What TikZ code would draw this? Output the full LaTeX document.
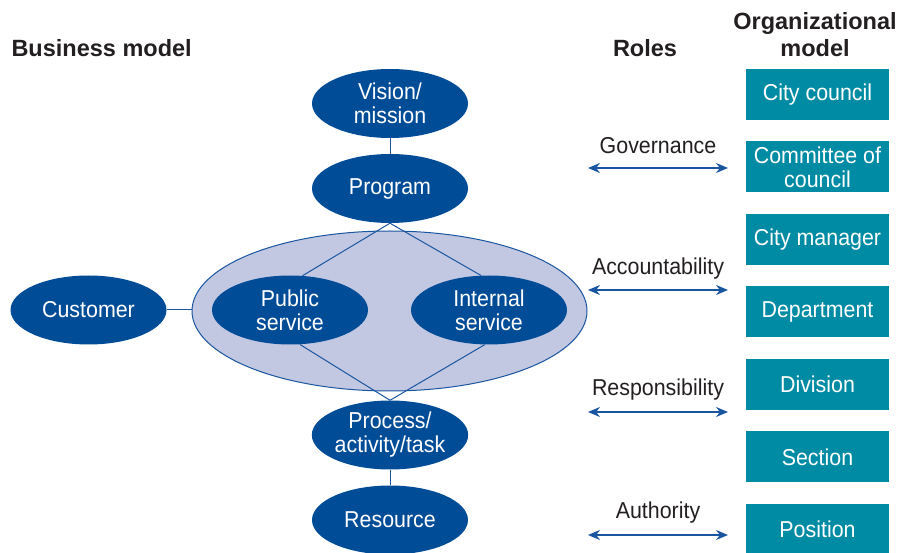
\documentclass[tikz,border=0pt]{standalone}
\usepackage{fontspec}
\setmainfont[FakeStretch=0.93]{Liberation Sans}
\newfontfamily\headfont{Liberation Sans}
\usetikzlibrary{shapes.geometric,arrows.meta}
\definecolor{dblue}{HTML}{004C97}
\definecolor{lblue}{HTML}{C3C8E2}
\definecolor{lnblue}{HTML}{1A56A0}
\definecolor{teal}{HTML}{008BA4}
\definecolor{txt}{HTML}{231F20}
\begin{document}
\begin{tikzpicture}[x=1pt,y=-1pt,
  ell/.style={ellipse,fill=dblue,text=white,minimum width=156pt,minimum height=69pt,inner sep=0pt,align=center,font=\fontsize{23}{24}\selectfont},
  obox/.style={rectangle,fill=teal,text=white,minimum width=143pt,minimum height=51pt,inner sep=0pt,align=center,font=\fontsize{23}{24}\selectfont},
  conn/.style={draw=lnblue,line width=1pt},
  role/.style={text=txt,font=\fontsize{23}{24}\selectfont},
  head/.style={text=txt,font=\headfont\fontsize{23.5}{27}\selectfont\bfseries,align=center},
  rarr/.style={draw=lnblue,line width=1.3pt,{Stealth[length=12pt,width=10pt]}-{Stealth[length=12pt,width=10pt]}}]
\useasboundingbox (0,0) rectangle (914,553);
% big ellipse
\node[ellipse,draw=lnblue,line width=1pt,fill=lblue,minimum width=395pt,minimum height=160pt,inner sep=0pt] (big) at (389.5,311) {};
% ellipses
\node[ell] (vis) at (390,103.5) {Vision/\\mission};
\node[ell] (prog) at (390,188.5) {Program};
\node[ell] (pub) at (290,310) {Public\\service};
\node[ell] (int) at (489,310) {Internal\\service};
\node[ell] (cust) at (88.5,310) {Customer};
\node[ell] (proc) at (390,435) {Process/\\activity/task};
\node[ell] (res) at (390,520) {Resource};
% connectors
\draw[conn] (vis) -- (prog);
\draw[conn] (proc) -- (res);
\draw[conn] (cust.east) -- (big.west |- cust.east);
\draw[conn] (prog.south) -- (pub.70);
\draw[conn] (prog.south) -- (int.103);
\draw[conn] (proc.north) -- (pub.-74);
\draw[conn] (proc.north) -- (int.-97);
% headings
\node[head,anchor=west] (hbm) at (8,48) {Business model};
\node[head] (hroles) at (645,48) {Roles};
\node[head] (horg) at (815,34.5) {Organizational\\model};
% boxes
\node[obox] (b1) at (817.5,95) {City council};
\node[obox] (b2) at (817.5,167) {Committee of\\council};
\node[obox] (b3) at (817.5,240) {City manager};
\node[obox] (b4) at (817.5,312) {Department};
\node[obox] (b5) at (817.5,384.5) {Division};
\node[obox] (b6) at (817.5,457) {Section};
\node[obox] (b7) at (817.5,529.5) {Position};
% roles
\coordinate (g1) at (588,168); \coordinate (g2) at (728,168);
\coordinate (a1) at (588,290); \coordinate (a2) at (728,290);
\coordinate (r1) at (588,412); \coordinate (r2) at (728,412);
\coordinate (u1) at (588,535); \coordinate (u2) at (728,535);
\draw[rarr] (g1) -- (g2);
\draw[rarr] (a1) -- (a2);
\draw[rarr] (r1) -- (r2);
\draw[rarr] (u1) -- (u2);
\node[role] (lg) at (658,146) {Governance};
\node[role] (la) at (658,269) {Accountability};
\node[role] (lr) at (658,390) {Responsibility};
\node[role] (lu) at (658,513) {Authority};
\end{tikzpicture}
\end{document}
